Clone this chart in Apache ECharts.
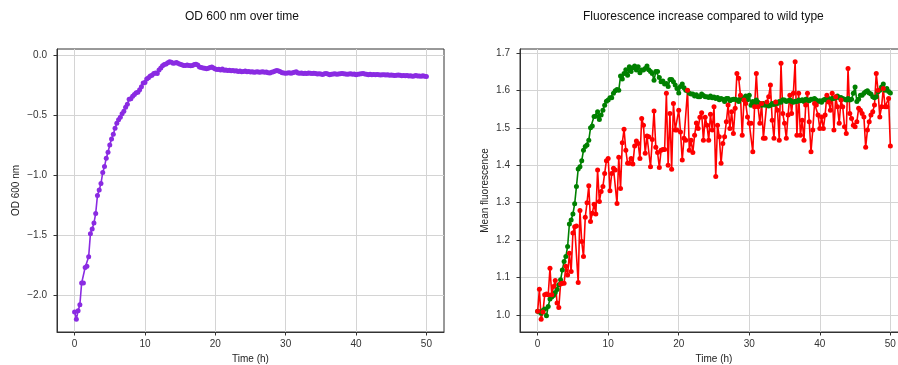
<!DOCTYPE html>
<html><head><meta charset="utf-8">
<script src="https://cdn.jsdelivr.net/npm/echarts@6/dist/echarts.min.js"></script>
<style>html,body{margin:0;padding:0;background:#fff}#c{width:898px;height:365px}</style>
</head><body><div id="c"></div>
<script>
const hours = [
0,0.25,0.5,0.75,1,1.25,1.5,1.75,2,2.25,2.5,2.75,3,3.25,3.5,3.75,4,4.25,4.5,4.75,
5,5.25,5.5,5.75,6,6.25,6.5,6.75,7,7.25,7.5,7.75,8,8.25,8.5,8.75,9,9.25,9.5,9.75,
10,10.25,10.5,10.75,11,11.25,11.5,11.75,12,12.25,12.5,12.75,13,13.25,13.5,13.75,14,14.25,14.5,14.75,
15,15.25,15.5,15.75,16,16.25,16.5,16.75,17,17.25,17.5,17.75,18,18.25,18.5,18.75,19,19.25,19.5,19.75,
20,20.25,20.5,20.75,21,21.25,21.5,21.75,22,22.25,22.5,22.75,23,23.25,23.5,23.75,24,24.25,24.5,24.75,
25,25.25,25.5,25.75,26,26.25,26.5,26.75,27,27.25,27.5,27.75,28,28.25,28.5,28.75,29,29.25,29.5,29.75,
30,30.25,30.5,30.75,31,31.25,31.5,31.75,32,32.25,32.5,32.75,33,33.25,33.5,33.75,34,34.25,34.5,34.75,
35,35.25,35.5,35.75,36,36.25,36.5,36.75,37,37.25,37.5,37.75,38,38.25,38.5,38.75,39,39.25,39.5,39.75,
40,40.25,40.5,40.75,41,41.25,41.5,41.75,42,42.25,42.5,42.75,43,43.25,43.5,43.75,44,44.25,44.5,44.75,
45,45.25,45.5,45.75,46,46.25,46.5,46.75,47,47.25,47.5,47.75,48,48.25,48.5,48.75,49,49.25,49.5,49.75,
50];

const od600 = [
-2.14,-2.20,-2.13,-2.08, -1.90,-1.90,-1.77,-1.76, -1.68,-1.49,-1.45,-1.40, -1.32,-1.17,-1.125,-1.07,
-0.98,-0.93,-0.86,-0.81, -0.75,-0.70,-0.66,-0.61, -0.57,-0.54,-0.52,-0.49, -0.47,-0.435,-0.41,-0.37,
-0.366,-0.345,-0.33,-0.315, -0.31,-0.29,-0.265,-0.235, -0.23,-0.20,-0.19,-0.175, -0.17,-0.155,-0.15,-0.155,
-0.125,-0.11,-0.09,-0.08, -0.075,-0.066,-0.058,-0.062, -0.07,-0.068,-0.064,-0.072, -0.078,-0.082,-0.088,-0.089,
-0.085,-0.088,-0.09,-0.089, -0.08,-0.078,-0.085,-0.10, -0.105,-0.11,-0.112,-0.116, -0.112,-0.105,-0.10,-0.11,
-0.118,-0.122,-0.12,-0.125, -0.118,-0.128,-0.125,-0.13, -0.128,-0.132,-0.13,-0.135, -0.132,-0.138,-0.135,-0.14,
-0.138,-0.135,-0.14,-0.138, -0.142,-0.14,-0.145,-0.142, -0.14,-0.145,-0.143,-0.14, -0.145,-0.142,-0.148,-0.15,
-0.145,-0.14,-0.135,-0.13, -0.135,-0.14,-0.148,-0.15, -0.152,-0.15,-0.148,-0.152, -0.148,-0.145,-0.14,-0.15,
-0.152,-0.15,-0.155,-0.152, -0.155,-0.15,-0.153,-0.155, -0.152,-0.155,-0.16,-0.158, -0.16,-0.163,-0.158,-0.155,
-0.16,-0.165,-0.162,-0.16, -0.158,-0.162,-0.16,-0.158, -0.155,-0.158,-0.16,-0.162, -0.16,-0.158,-0.162,-0.16,
-0.165,-0.162,-0.16,-0.158, -0.155,-0.16,-0.162,-0.165, -0.162,-0.165,-0.163,-0.166, -0.164,-0.165,-0.168,-0.166,
-0.165,-0.168,-0.166,-0.17, -0.168,-0.17,-0.172,-0.17, -0.168,-0.17,-0.173,-0.172, -0.174,-0.172,-0.175,-0.173,
-0.178,-0.175,-0.172,-0.176, -0.175,-0.178,-0.174,-0.177,
-0.18];

const fluorGreen = [
1.010,1.008,1.005,1.012, 1.016,0.998,1.023,1.043, 1.048,1.052,1.060,1.068, 1.081,1.094,1.120,1.143,
1.156,1.183,1.243,1.254, 1.270,1.297,1.343,1.390, 1.396,1.412,1.440,1.450, 1.454,1.467,1.500,1.505,
1.530,1.531,1.543,1.522, 1.534,1.547,1.560,1.571, 1.574,1.580,1.580,1.592, 1.599,1.602,1.600,1.638,
1.630,1.645,1.655,1.640, 1.663,1.650,1.660,1.665, 1.654,1.663,1.647,1.654, 1.654,1.658,1.665,1.655,
1.650,1.645,1.627,1.650, 1.650,1.634,1.623,1.625, 1.617,1.618,1.610,1.629, 1.629,1.623,1.614,1.605,
1.593,1.610,1.617,1.607, 1.600,1.599,1.592,1.590, 1.590,1.585,1.588,1.583, 1.583,1.590,1.586,1.583,
1.583,1.581,1.585,1.580, 1.582,1.578,1.581,1.575, 1.578,1.576,1.570,1.578, 1.578,1.572,1.575,1.576,
1.576,1.574,1.570,1.578, 1.578,1.580,1.585,1.575, 1.587,1.560,1.570,1.565, 1.574,1.568,1.565,1.560,
1.565,1.560,1.562,1.558, 1.560,1.565,1.562,1.568, 1.565,1.570,1.568,1.575, 1.574,1.570,1.572,1.575,
1.570,1.568,1.571,1.570, 1.574,1.572,1.575,1.570, 1.576,1.574,1.572,1.576, 1.576,1.578,1.574,1.570,
1.572,1.568,1.574,1.576, 1.574,1.578,1.576,1.578, 1.578,1.581,1.585,1.580, 1.581,1.578,1.576,1.574,
1.578,1.574,1.576,1.592, 1.609,1.570,1.576,1.587, 1.587,1.592,1.596,1.599, 1.593,1.590,1.583,1.580,
1.583,1.596,1.600,1.609, 1.617,1.600,1.605,1.597,
1.593];

const fluorRed = [
1.010,1.069,0.989,1.008, 1.054,1.056,1.054,1.125, 1.054,1.076,1.092,1.032, 1.020,1.083,1.085,1.085,
1.130,1.107,1.165,1.116, 1.219,1.236,1.238,1.087, 1.279,1.196,1.156,1.261, 1.300,1.345,1.250,1.272,
1.296,1.270,1.387,1.303, 1.330,1.343,1.378,1.412, 1.418,1.332,1.378,1.392, 1.387,1.298,1.421,1.338,
1.460,1.496,1.440,1.405, 1.405,1.418,1.403,1.451, 1.465,1.458,1.418,1.525, 1.507,1.432,1.478,1.476,
1.396,1.469,1.545,1.448, 1.434,1.394,1.440,1.442, 1.442,1.592,1.400,1.538, 1.389,1.565,1.494,1.494,
1.547,1.489,1.414,1.472, 1.467,1.600,1.440,1.467, 1.434,1.480,1.513,1.498, 1.528,1.540,1.467,1.528,
1.507,1.467,1.536,1.494, 1.556,1.370,1.507,1.476, 1.405,1.458,1.476,1.516, 1.561,1.498,1.543,1.485,
1.552,1.645,1.632,1.587, 1.480,1.574,1.565,1.529, 1.512,1.512,1.436,1.556, 1.645,1.556,1.512,1.565,
1.472,1.472,1.569,1.583, 1.614,1.520,1.472,1.569, 1.547,1.467,1.672,1.538, 1.512,1.472,1.534,1.587,
1.538,1.592,1.676,1.480, 1.592,1.480,1.520,1.467, 1.561,1.592,1.516,1.436, 1.494,1.565,1.561,1.534,
1.498,1.529,1.498,1.534, 1.587,1.569,1.547,1.592, 1.494,1.583,1.556,1.512, 1.574,1.556,1.503,1.485,
1.658,1.538,1.525,1.507, 1.503,1.516,1.552,1.547, 1.538,1.529,1.448,1.494, 1.516,1.534,1.543,1.561,
1.645,1.600,1.529,1.556, 1.605,1.556,1.556,1.578,
1.451];

const timeTicks = [0,10,20,30,40,50];
const odTicks = [-2.0,-1.5,-1.0,-0.5,0.0];
const fluorTicks = [1.0,1.1,1.2,1.3,1.4,1.5,1.6,1.7];

function paddedExtent(arrs){
  let lo = Infinity, hi = -Infinity;
  arrs.forEach(a => a.forEach(v => { if (v < lo) lo = v; if (v > hi) hi = v; }));
  const m = (hi - lo) * 0.05;
  return [lo - m, hi + m];
}
const xExt = paddedExtent([hours]);
const odExt = paddedExtent([od600]);
const flExt = paddedExtent([fluorGreen, fluorRed]);

const FONT = 'Liberation Sans, Arial, sans-serif';
const spine = '#333333';
const gridCol = '#d4d4d4';
const fmt = v => v.toFixed(1).replace('-', '\u2212');
const fmtInt = v => String(Math.round(v));

function xAxis(gi){
  return {
    type:'value', gridIndex:gi, min:xExt[0], max:xExt[1],
    name:'Time (h)', nameLocation:'middle', nameGap:20,
    nameTextStyle:{fontFamily:FONT, fontSize:10, color:'#222'},
    axisLine:{show:true, onZero:false, lineStyle:{color:spine, width:1}},
    axisTick:{show:true, length:3.5, lineStyle:{color:spine}, customValues:timeTicks},
    axisLabel:{fontFamily:FONT, fontSize:10, color:'#333', margin:7, customValues:timeTicks, formatter:fmtInt},
    splitLine:{show:true, lineStyle:{color:gridCol, width:1}}
  };
}
function yAxis(gi, ext, ticks, name, gap){
  return {
    type:'value', gridIndex:gi, min:ext[0], max:ext[1],
    name:name, nameLocation:'middle', nameGap:gap,
    nameTextStyle:{fontFamily:FONT, fontSize:10, color:'#222'},
    axisLine:{show:true, onZero:false, lineStyle:{color:spine, width:1}},
    axisTick:{show:true, length:3.5, lineStyle:{color:spine}, customValues:ticks},
    axisLabel:{fontFamily:FONT, fontSize:10, color:'#333', margin:10, customValues:ticks, formatter:fmt},
    splitLine:{show:true, lineStyle:{color:gridCol, width:1}}
  };
}
function pairs(ys){ return hours.map((h,i) => [h, ys[i]]); }

const chart = echarts.init(document.getElementById('c'), null, {renderer:'canvas'});
chart.setOption({
  animation:false,
  backgroundColor:'#ffffff',
  title:[
    {text:'OD 600 nm over time', left:185, top:11, padding:0,
     textStyle:{fontFamily:FONT, fontSize:12, fontWeight:'normal', color:'#111'}},
    {text:'Fluorescence increase compared to wild type', left:583, top:11, padding:0,
     textStyle:{fontFamily:FONT, fontSize:12, fontWeight:'normal', color:'#111'}}
  ],
  grid:[
    {left:57, top:49, width:387, height:283, show:true, borderColor:spine, borderWidth:1, containLabel:false, outerBoundsMode:'none'},
    {left:520, top:49, width:388, height:283, show:true, borderColor:spine, borderWidth:1, containLabel:false, outerBoundsMode:'none'}
  ],
  xAxis:[xAxis(0), xAxis(1)],
  yAxis:[yAxis(0, odExt, odTicks, 'OD 600 nm', 36), yAxis(1, flExt, fluorTicks, 'Mean fluorescence', 30)],
  series:[
    {type:'line', xAxisIndex:0, yAxisIndex:0, data:pairs(od600), symbol:'circle', symbolSize:5,
     itemStyle:{color:'#8a2be2'}, lineStyle:{color:'#8a2be2', width:1.6}},
    {type:'line', xAxisIndex:1, yAxisIndex:1, data:pairs(fluorGreen), symbol:'circle', symbolSize:5,
     itemStyle:{color:'#008000'}, lineStyle:{color:'#008000', width:1.6}},
    {type:'line', xAxisIndex:1, yAxisIndex:1, data:pairs(fluorRed), symbol:'circle', symbolSize:5,
     itemStyle:{color:'#ff0000'}, lineStyle:{color:'#ff0000', width:1.6}}
  ]
});
</script></body></html>
